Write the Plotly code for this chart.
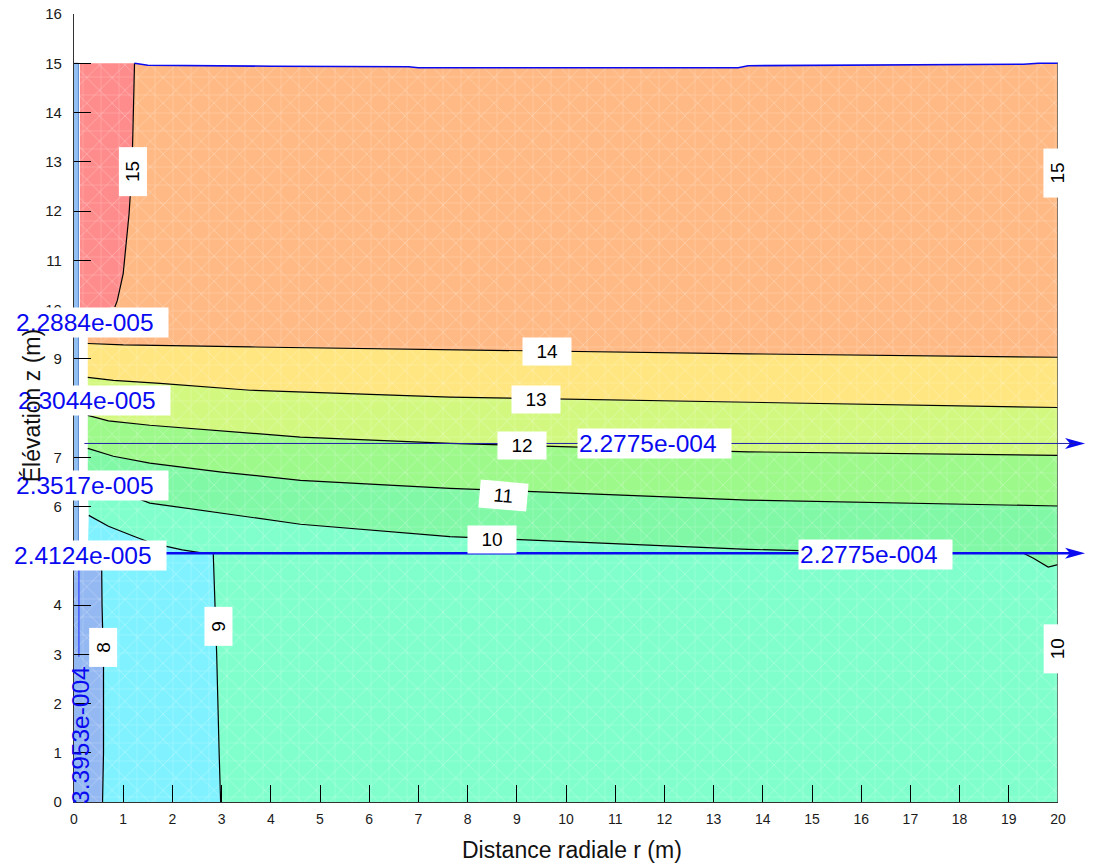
import plotly.graph_objects as go

# ---------------- data ----------------
# contour lines of hydraulic head (r in m, z in m)
C15_R = [1.23, 1.20, 1.18, 1.12, 1.00, 0.88, 0.83]
C15_Z = [15.0, 14.0, 12.9, 11.95, 10.73, 10.18, 10.05]
C14_R = [0.28, 1.0, 3.58, 7.64, 13.7, 20.0]
C14_Z = [9.31, 9.28, 9.24, 9.18, 9.10, 9.03]
C13_R = [0.28, 0.8, 1.75, 3.58, 7.64, 13.7, 20.0]
C13_Z = [8.62, 8.56, 8.50, 8.36, 8.22, 8.12, 8.01]
C12_R = [0.28, 0.7, 1.54, 3.58, 4.6, 7.64, 13.7, 20.0]
C12_Z = [7.85, 7.74, 7.65, 7.49, 7.41, 7.28, 7.11, 7.04]
C11_R = [0.28, 0.8, 1.54, 3.0, 4.6, 7.64, 13.7, 20.0]
C11_Z = [7.18, 7.02, 6.88, 6.70, 6.53, 6.37, 6.13, 6.01]
C10_R = [0.28, 0.7, 1.28, 1.54, 4.6, 7.64, 13.7, 16.5, 19.3, 19.5, 19.8, 20.0]
C10_Z = [6.45, 6.30, 6.17, 6.07, 5.64, 5.39, 5.13, 5.06, 5.05, 4.95, 4.77, 4.82]
C9_R = [0.30, 0.7, 1.2, 1.6, 2.2, 2.66, 2.83, 2.86, 2.90, 2.95, 2.98]
C9_Z = [5.82, 5.60, 5.40, 5.25, 5.12, 5.05, 5.05, 4.2, 3.0, 1.0, 0.0]
C8_R = [0.56, 0.57, 0.60, 0.60, 0.58]
C8_Z = [5.05, 4.0, 2.8, 1.0, 0.0]
SURF_R = [1.23, 1.5, 4.0, 6.8, 7.0, 13.5, 13.7, 16.8, 19.3, 19.6, 20.0]
SURF_Z = [15.0, 14.96, 14.94, 14.93, 14.91, 14.91, 14.95, 14.97, 14.98, 15.0, 15.0]

# domain geometry
R_MAX = 20.0
Z_TOP = 15.0
WELL_R = 0.09
RED_LEFT = 0.12
SCREEN_R = 0.28
RED_BASE_Z = 9.95
LAYER_Z = 5.05
ARROW_TIP_R = 20.55
ARROW_Z = [7.28, 5.05]
ARROW_START = [0.18, 0.08]
MARK_R = 0.10
MARK_Z = [2.95, 5.05]

# contour labels
CLABEL_TEXT = ["15", "15", "14", "13", "12", "11", "10", "9", "8", "10"]
CLABEL_R = [1.20, 19.99, 9.62, 9.38, 9.10, 8.72, 8.49, 2.93, 0.59, 19.99]
CLABEL_Z = [12.80, 12.76, 9.15, 8.17, 7.24, 6.23, 5.32, 3.57, 3.14, 3.10]
CLABEL_ANGLE = [-90, -90, 0, 0, 0, 5, 0, -90, -90, -90]

# flux labels (blue)
FLUX_TEXT = ["2.2884e-005", "2.3044e-005", "2.3517e-005", "2.4124e-005",
             "2.2775e-004", "2.2775e-004", "3.3953e-004"]
FLUX_R = [0.36, 0.40, 0.36, 0.32, 11.79, 16.29, 0.12]
FLUX_Z = [9.73, 8.15, 6.42, 5.00, 7.27, 5.03, 1.36]
FLUX_ANGLE = [0, 0, 0, 0, 0, 0, -90]

X_TICKS = list(range(0, 21))
Y_TICKS = list(range(0, 17))
X_RANGE = [0, 20]
Y_RANGE = [0, 16]

# ---------------- styles ----------------
FONT = "Arial, 'Liberation Sans', sans-serif"
COL_RED = "#ff8c8c"
COL_ORANGE = "#ffb984"
COL_YELLOW = "#ffe680"
COL_12_13 = "#d2f880"
COL_11_12 = "#9cf98a"
COL_10_11 = "#80f8a6"
COL_9_10 = "#80ffcc"
COL_8_9 = "#80f2ff"
COL_LT8 = "#94b8f2"
COL_WELL = "#92c0f2"
BLUE = "#0a0af0"
ARROW_COLORS = ["#2020a8", BLUE]
ARROW_WIDTHS = [1, 2.4]

WIDTH, HEIGHT = 1094, 867
MARGIN = dict(l=74, r=36, t=14, b=65)
PLOT_W = WIDTH - MARGIN["l"] - MARGIN["r"]
PLOT_H = HEIGHT - MARGIN["t"] - MARGIN["b"]
HEAD_LEN_PX, HEAD_HALF_PX = 20, 5.5

fig = go.Figure()


def band(r, z, color):
    fig.add_trace(go.Scatter(
        x=r, y=z, mode="lines", fill="toself", fillcolor=color,
        line=dict(width=0, color=color), hoverinfo="skip", showlegend=False,
        fillpattern=dict(shape="x", size=18, solidity=0.06,
                         fgcolor="white", fgopacity=0.45, bgcolor=color)))
    # second texture layer: light orthogonal grid
    fig.add_trace(go.Scatter(
        x=r, y=z, mode="lines", fill="toself", fillcolor="rgba(0,0,0,0)",
        line=dict(width=0, color="rgba(0,0,0,0)"), hoverinfo="skip",
        showlegend=False,
        fillpattern=dict(shape="+", size=18, solidity=0.05,
                         fgcolor="white", fgopacity=0.35,
                         bgcolor="rgba(0,0,0,0)")))


# filled regions
band([RED_LEFT] + C15_R + [RED_LEFT], [Z_TOP] + C15_Z + [RED_BASE_Z], COL_RED)
band(C14_R + SURF_R[::-1] + C15_R + [SCREEN_R],
     C14_Z + SURF_Z[::-1] + C15_Z + [RED_BASE_Z], COL_ORANGE)
band(C14_R + C13_R[::-1], C14_Z + C13_Z[::-1], COL_YELLOW)
band(C13_R + C12_R[::-1], C13_Z + C12_Z[::-1], COL_12_13)
band(C12_R + C11_R[::-1], C12_Z + C11_Z[::-1], COL_11_12)
band(C11_R + C10_R[::-1], C11_Z + C10_Z[::-1], COL_10_11)
band(C10_R + [R_MAX] + C9_R[::-1], C10_Z + [0.0] + C9_Z[::-1], COL_9_10)
band(C9_R + C8_R[::-1] + [SCREEN_R], C9_Z + C8_Z[::-1] + [LAYER_Z], COL_8_9)
band([0.0, 0.0] + C8_R, [0.0, LAYER_Z] + C8_Z, COL_LT8)
fig.add_trace(go.Scatter(
    x=[0.0, WELL_R, WELL_R, 0.0], y=[LAYER_Z, LAYER_Z, Z_TOP, Z_TOP],
    mode="lines", fill="toself", fillcolor=COL_WELL,
    line=dict(width=1, color="#5a8ad0"), hoverinfo="skip", showlegend=False))

# contour lines
for cr, cz in [(C15_R, C15_Z), (C14_R, C14_Z), (C13_R, C13_Z), (C12_R, C12_Z),
               (C11_R, C11_Z), (C10_R, C10_Z), (C9_R, C9_Z), (C8_R, C8_Z)]:
    fig.add_trace(go.Scatter(x=cr, y=cz, mode="lines",
                             line=dict(color="black", width=1.2),
                             hoverinfo="skip", showlegend=False))

# free surface
fig.add_trace(go.Scatter(x=SURF_R, y=SURF_Z, mode="lines",
                         line=dict(color=BLUE, width=1.6),
                         hoverinfo="skip", showlegend=False))
# right boundary
fig.add_trace(go.Scatter(x=[R_MAX, R_MAX], y=[0.0, Z_TOP], mode="lines",
                         line=dict(color="#666666", width=1.6),
                         hoverinfo="skip", showlegend=False))
# small vertical flux marker
fig.add_trace(go.Scatter(x=[MARK_R, MARK_R], y=MARK_Z, mode="lines",
                         line=dict(color="#3040ff", width=1.2),
                         hoverinfo="skip", showlegend=False))

annotations = []
shapes = []
# arrows: shaft as annotation line, head as paper-referenced path
for z, r0, col, w in zip(ARROW_Z, ARROW_START, ARROW_COLORS, ARROW_WIDTHS):
    annotations.append(dict(x=ARROW_TIP_R - 0.2, y=z, ax=r0, ay=z,
                            xref="x", yref="y", axref="x", ayref="y", text="",
                            showarrow=True, arrowhead=0, arrowwidth=w,
                            arrowcolor=col))
    tx = (ARROW_TIP_R - X_RANGE[0]) / (X_RANGE[1] - X_RANGE[0])
    ty = (z - Y_RANGE[0]) / (Y_RANGE[1] - Y_RANGE[0])
    hl = HEAD_LEN_PX / PLOT_W
    hh = HEAD_HALF_PX / PLOT_H
    path = (f"M {tx},{ty} L {tx - hl},{ty + hh} L {tx - 0.75 * hl},{ty} "
            f"L {tx - hl},{ty - hh} Z")
    shapes.append(dict(type="path", xref="paper", yref="paper", path=path,
                       fillcolor=BLUE, line=dict(width=0), layer="above"))

# contour labels
for t, r, z, a in zip(CLABEL_TEXT, CLABEL_R, CLABEL_Z, CLABEL_ANGLE):
    annotations.append(dict(x=r, y=z, xref="x", yref="y",
                            text="\u00a0\u00a0" + t + "\u00a0\u00a0",
                            showarrow=False, textangle=a, bgcolor="white",
                            borderpad=3, font=dict(family=FONT, size=19, color="black"),
                            xanchor="center", yanchor="middle"))

# flux labels
for t, r, z, a in zip(FLUX_TEXT, FLUX_R, FLUX_Z, FLUX_ANGLE):
    annotations.append(dict(x=r, y=z, xref="x", yref="y",
                            text=t + ("\u00a0\u00a0" if a == 0 else ""),
                            showarrow=False, textangle=a,
                            bgcolor="white" if a == 0 else "rgba(0,0,0,0)",
                            borderpad=1, font=dict(family=FONT, size=24.5, color=BLUE),
                            xanchor="center", yanchor="middle"))

# axis titles (drawn last so they sit above the labels)
annotations.append(dict(x=0.506, y=-0.0613, xref="paper", yref="paper",
                        text="Distance radiale r (m)", showarrow=False,
                        font=dict(family=FONT, size=23, color="#111111"),
                        xanchor="center", yanchor="middle"))
annotations.append(dict(x=-0.0427, y=0.5035, xref="paper", yref="paper",
                        text="Élévation z (m)", showarrow=False, textangle=-90,
                        font=dict(family=FONT, size=23, color="#111111"),
                        xanchor="center", yanchor="middle"))

fig.update_layout(
    width=WIDTH, height=HEIGHT,
    margin=dict(**MARGIN, autoexpand=False),
    plot_bgcolor="white", paper_bgcolor="white",
    font=dict(family=FONT, size=14, color="#1a1a1a"),
    annotations=annotations, shapes=shapes,
    showlegend=False,
)
fig.update_xaxes(range=X_RANGE, tickvals=X_TICKS, ticks="inside", ticklen=17,
                 tickwidth=1, tickcolor="black", showline=True, linecolor="#333333",
                 linewidth=1.2, showgrid=False, zeroline=False, automargin=False,
                 ticklabelstandoff=4, ticklabeloverflow="allow",
                 tickfont=dict(size=14))
fig.update_yaxes(range=Y_RANGE, tickvals=Y_TICKS, ticks="inside", ticklen=17,
                 tickwidth=1, tickcolor="black", showline=True, linecolor="#333333",
                 linewidth=1.2, showgrid=False, zeroline=False, automargin=False,
                 ticklabelstandoff=8, ticklabeloverflow="allow",
                 tickfont=dict(size=15))

fig.write_html("out.html", config={"displayModeBar": False},
               post_script="document.body.style.margin='0';"
                           "document.body.style.overflow='hidden';")
